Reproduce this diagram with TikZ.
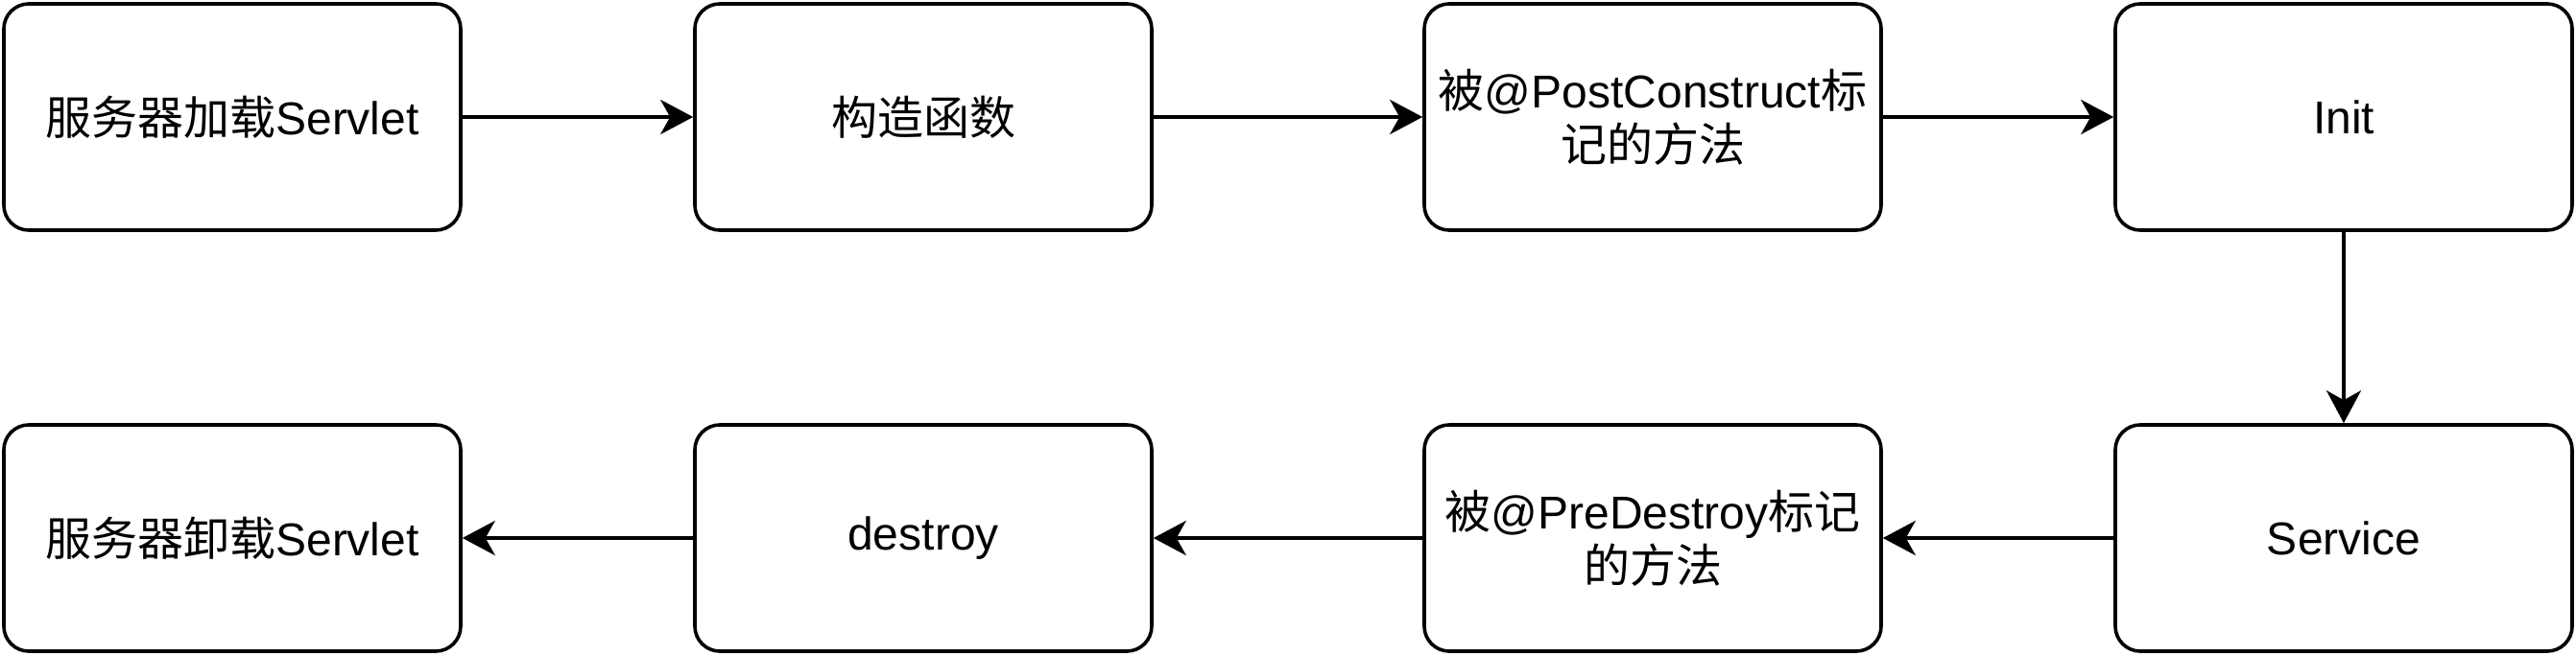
\documentclass[tikz,border=0pt]{standalone}
\usepackage{fontspec}
\setmainfont{Liberation Sans}
\newfontfamily\cjk{Noto Sans CJK SC}
\usetikzlibrary{arrows.meta}

\tikzset{
  lifebox/.style={draw=black, line width=1.8pt, rounded corners=13pt,
    minimum width=238pt, minimum height=118pt, align=center,
    font=\fontsize{24pt}{28pt}\selectfont},
  flow/.style={->, line width=1.8pt}
}

\begin{document}
\begin{tikzpicture}[>={Stealth[length=17pt, width=18pt, inset=5pt]}]

\useasboundingbox (0,0) rectangle (1342pt,-342pt);

%top row
\node[lifebox] (load) at (121pt,-61pt) {{\cjk 服务器加载}Servlet};
\node[lifebox] (ctor) at (481pt,-61pt) {{\cjk 构造函数}};
\node[lifebox] (post) at (861pt,-61pt) {{\cjk 被}@PostConstruct{\cjk 标}\\{\cjk 记的方法}};
\node[lifebox] (init) at (1221pt,-61pt) {Init};

%bottom row
\node[lifebox] (service) at (1221pt,-280.5pt) {Service};
\node[lifebox] (pre) at (861pt,-280.5pt) {{\cjk 被}@PreDestroy{\cjk 标记}\\{\cjk 的方法}};
\node[lifebox] (destroy) at (481pt,-280.5pt) {destroy};
\node[lifebox] (unload) at (121pt,-280.5pt) {{\cjk 服务器卸载}Servlet};

\draw[flow] (load) -- (ctor);
\draw[flow] (ctor) -- (post);
\draw[flow] (post) -- (init);
\draw[flow] (init) -- (service);
\draw[flow] (service) -- (pre);
\draw[flow] (pre) -- (destroy);
\draw[flow] (destroy) -- (unload);

\end{tikzpicture}
\end{document}
